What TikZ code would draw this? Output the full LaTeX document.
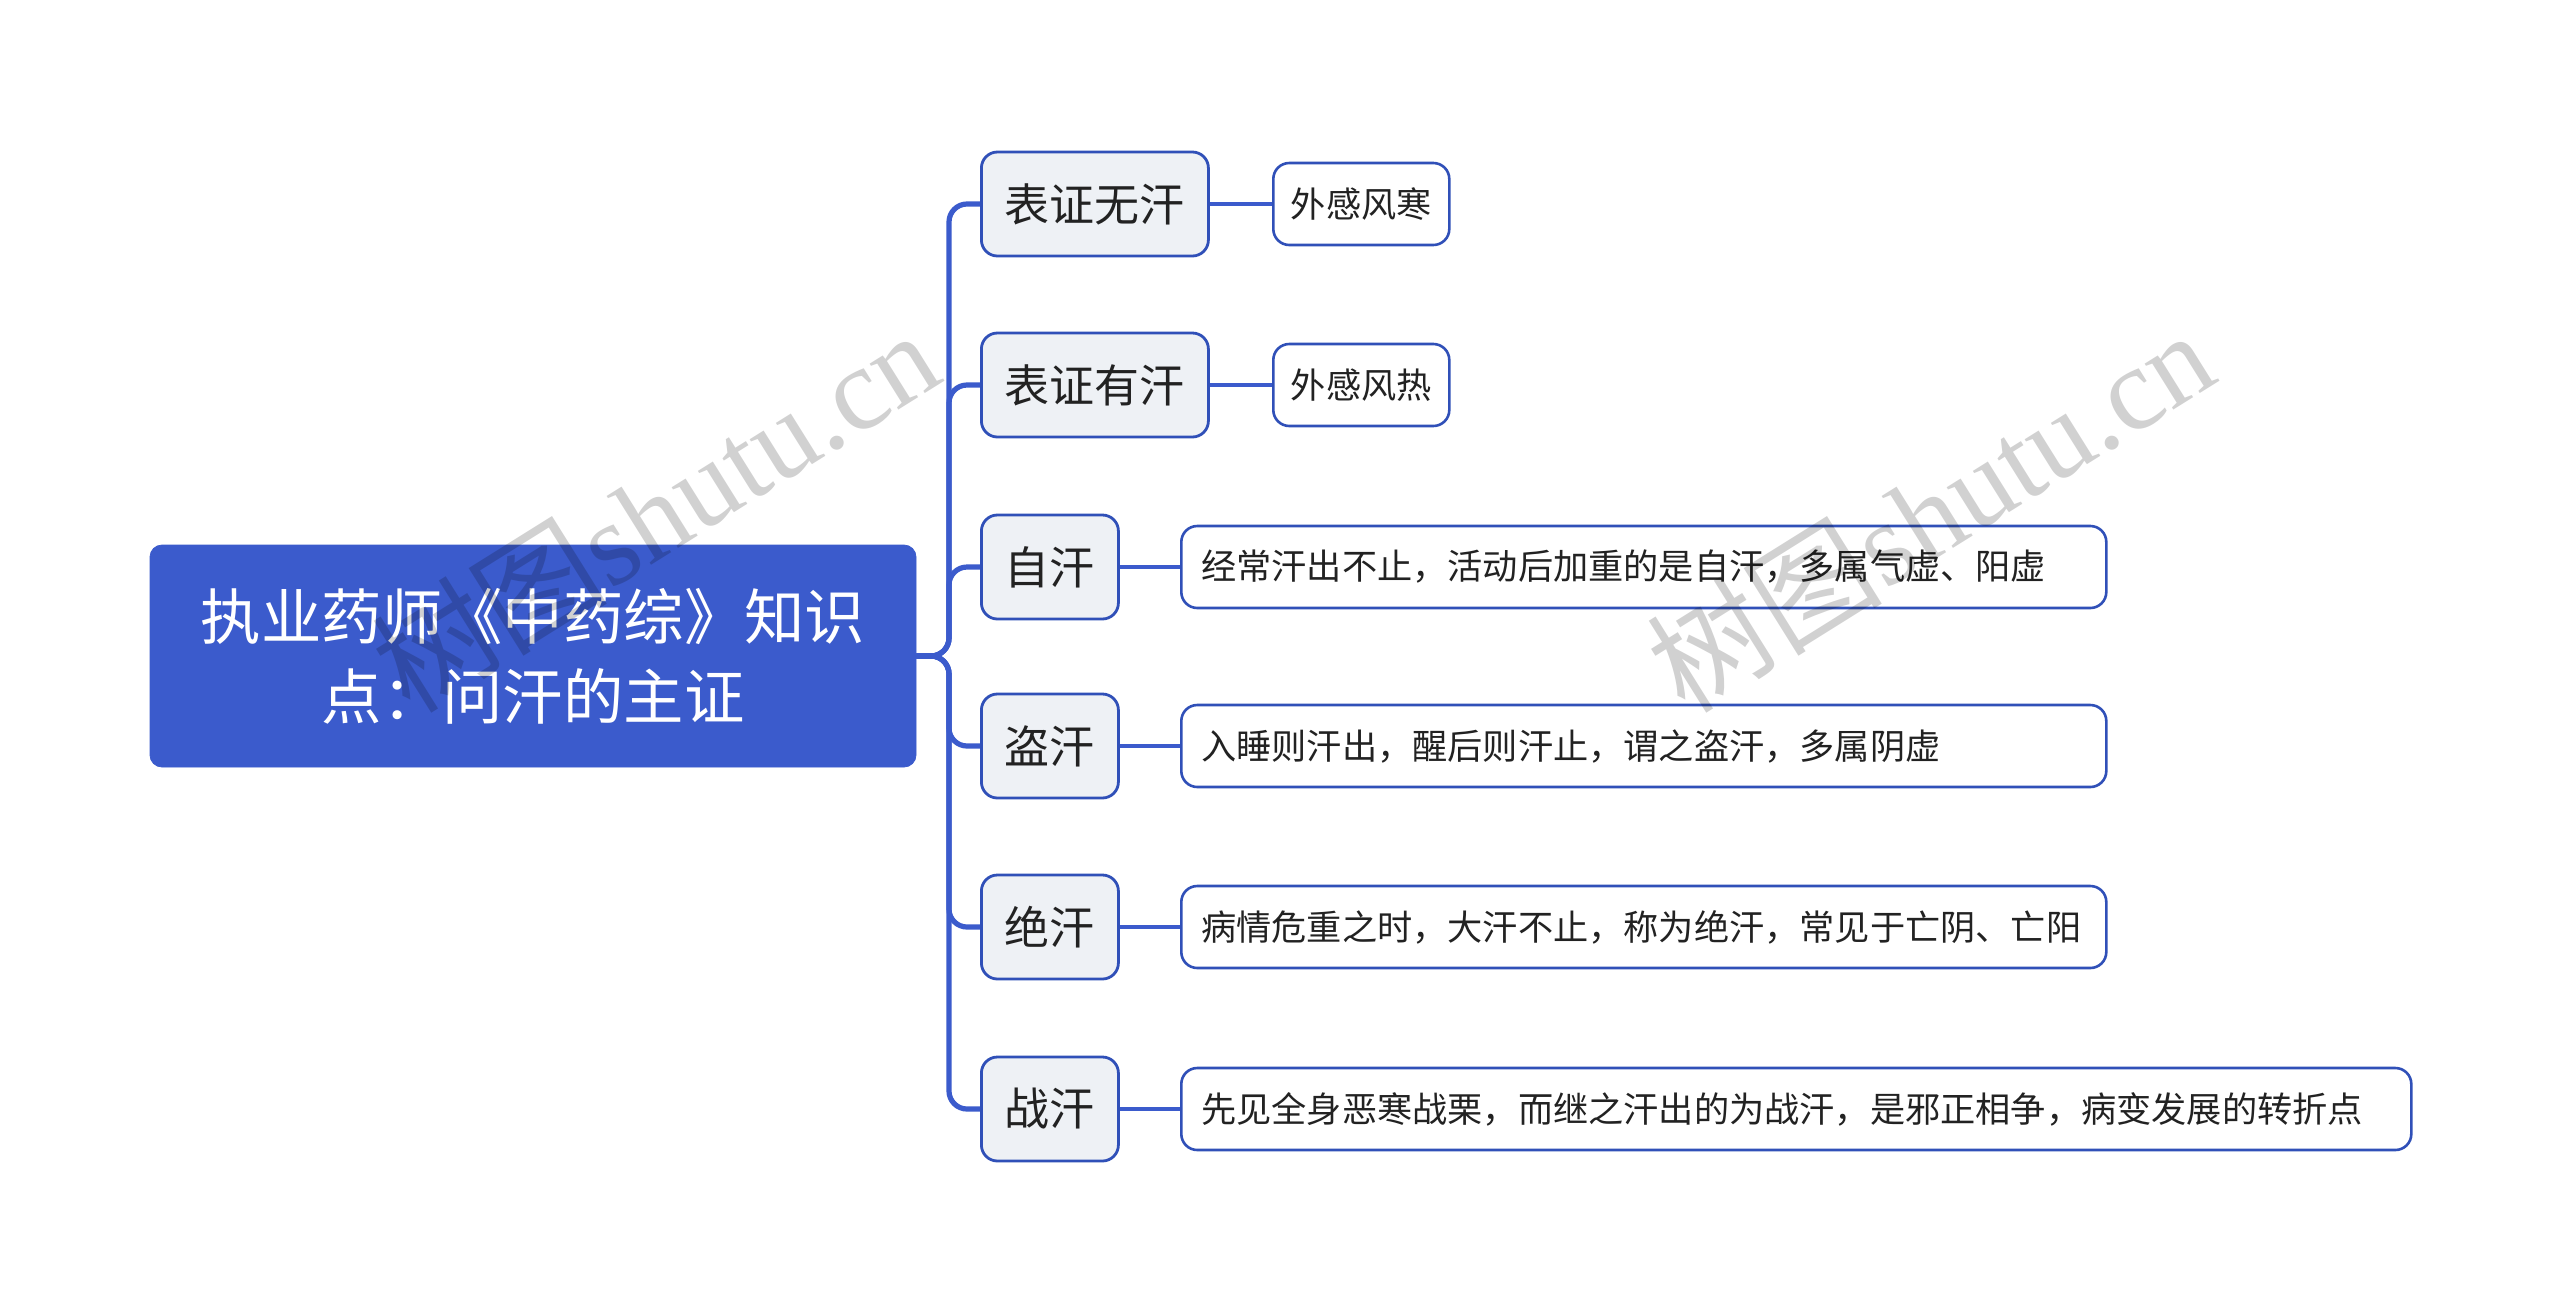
\documentclass[tikz,border=0pt]{standalone}
\usepackage{fontspec}
\newfontfamily\cjk{Noto Sans CJK SC}
\newfontfamily\wmserif{Liberation Serif}
\definecolor{mainblue}{HTML}{3B5BCC}
\definecolor{edgeblue}{HTML}{3050B8}
\definecolor{lvlfill}{HTML}{EEF1F5}
\definecolor{txt}{HTML}{222222}
\tikzset{
  x=0.5pt, y=-0.5pt,
  rootbox/.style={draw=mainblue, fill=mainblue, rounded corners=6pt, minimum width=383pt, minimum height=111pt,
    text=white, font=\cjk\fontsize{30.2pt}{40pt}\selectfont, align=center, inner sep=0pt},
  lvlone/.style={draw=edgeblue, fill=lvlfill, line width=1.4pt, rounded corners=8pt, minimum height=52pt,
    text=txt, font=\cjk\fontsize{22.5pt}{26pt}\selectfont, inner sep=0pt, anchor=west},
  lvltwo/.style={draw=edgeblue, fill=white, line width=1.3pt, rounded corners=8pt, minimum height=41pt,
    text=txt, font=\cjk\fontsize{17.6pt}{21pt}\selectfont, inner sep=0pt, anchor=west},
  longbox/.style={lvltwo, align=left, inner xsep=10pt, text width=#1},
  conn/.style={draw=mainblue, line width=2.6pt, rounded corners=9pt},
  subconn/.style={draw=mainblue, line width=2pt},
  wmark/.style={text=black, text opacity=0.18, font=\fontsize{59pt}{63pt}\selectfont, rotate=32}
}
\begin{document}
\begin{tikzpicture}
\useasboundingbox (0,0) rectangle (2560,1313);
\fill[white] (0,0) rectangle (2560,1313);

\node[rootbox] (root) at (533,656) {执业药师《中药综》知识\\点：问汗的主证};

\node[lvlone, minimum width=113.5pt] (a1) at (980,204) {表证无汗};
\node[lvlone, minimum width=113.5pt] (a2) at (980,385) {表证有汗};
\node[lvlone, minimum width=68.5pt] (a3) at (980,567) {自汗};
\node[lvlone, minimum width=68.5pt] (a4) at (980,746) {盗汗};
\node[lvlone, minimum width=68.5pt] (a5) at (980,927) {绝汗};
\node[lvlone, minimum width=68.5pt] (a6) at (980,1109) {战汗};

\node[lvltwo, minimum width=88pt] (b1) at (1272,204) {外感风寒};
\node[lvltwo, minimum width=88pt] (b2) at (1272,385) {外感风热};
\node[longbox=442.5pt] (b3) at (1180,567) {经常汗出不止，活动后加重的是自汗，多属气虚、阳虚};
\node[longbox=442.5pt] (b4) at (1180,746) {入睡则汗出，醒后则汗止，谓之盗汗，多属阴虚};
\node[longbox=442.5pt] (b5) at (1180,927) {病情危重之时，大汗不止，称为绝汗，常见于亡阴、亡阳};
\node[longbox=595pt] (b6) at (1180,1109) {先见全身恶寒战栗，而继之汗出的为战汗，是邪正相争，病变发展的转折点};

\coordinate (trunk) at (949,656);
\foreach \c in {a1,a2,a3,a4,a5,a6}{
  \draw[conn] (root.east) -- (trunk) |- (\c.west);
}
\foreach \p/\q in {a1/b1,a2/b2,a3/b3,a4/b4,a5/b5,a6/b6}{
  \draw[subconn] (\p.east) -- (\q.west);
}

\node[wmark] (w1) at (655,510) {{\cjk 树图}{\wmserif shutu.cn}};
\node[wmark] (w2) at (1930,510) {{\cjk 树图}{\wmserif shutu.cn}};
\end{tikzpicture}
\end{document}
